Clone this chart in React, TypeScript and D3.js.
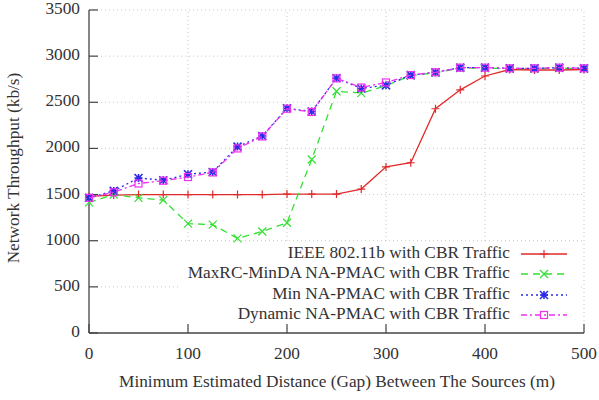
import React from "react";
import * as d3 from "d3";

const xValues = [0, 25, 50, 75, 100, 125, 150, 175, 200, 225, 250, 275, 300, 325, 350, 375, 400, 425, 450, 475, 500];
const ieee = [1480, 1495, 1500, 1500, 1500, 1500, 1500, 1500, 1505, 1505, 1505, 1560, 1800, 1845, 2430, 2635, 2785, 2855, 2850, 2850, 2855];
const maxrc = [1415, 1500, 1465, 1440, 1185, 1175, 1025, 1100, 1195, 1880, 2620, 2600, 2680, 2790, 2820, 2870, 2870, 2865, 2865, 2870, 2865];
const minNa = [1465, 1540, 1680, 1655, 1720, 1745, 2020, 2135, 2435, 2400, 2760, 2650, 2685, 2795, 2825, 2875, 2875, 2868, 2868, 2875, 2868];
const dynNa = [1465, 1525, 1620, 1650, 1690, 1740, 2000, 2130, 2430, 2395, 2760, 2660, 2715, 2795, 2825, 2875, 2875, 2868, 2868, 2875, 2868];
const xTicks = [0, 100, 200, 300, 400, 500];
const yTicks = [0, 500, 1000, 1500, 2000, 2500, 3000, 3500];
const seriesNames = [
  "IEEE 802.11b with CBR Traffic",
  "MaxRC-MinDA NA-PMAC with CBR Traffic",
  "Min NA-PMAC with CBR Traffic",
  "Dynamic NA-PMAC with CBR Traffic",
];

const W = 599, H = 400;
const L = 89, R = 584, T = 10, B = 333;
const FONT = "Liberation Serif";
const FS = 17.3;

const x = d3.scaleLinear().domain([0, 500]).range([L, R]);
const y = d3.scaleLinear().domain([0, 3500]).range([B, T]);

type Style = { color: string; dash: string; marker: string };
const styles: Style[] = [
  { color: "#e02a2a", dash: "", marker: "plus" },
  { color: "#33e033", dash: "7,5", marker: "cross" },
  { color: "#2a2ae8", dash: "2,3", marker: "star" },
  { color: "#f030f0", dash: "6,3,2,3", marker: "square" },
];
const data = [ieee, maxrc, minNa, dynNa];

function Marker({ cx, cy, type, color }: { cx: number; cy: number; type: string; color: string }) {
  const s = 4;
  if (type === "plus")
    return <path d={`M${cx - s},${cy}H${cx + s}M${cx},${cy - s}V${cy + s}`} stroke={color} strokeWidth={1.2} fill="none" />;
  if (type === "cross")
    return <path d={`M${cx - s},${cy - s}L${cx + s},${cy + s}M${cx - s},${cy + s}L${cx + s},${cy - s}`} stroke={color} strokeWidth={1.2} fill="none" />;
  if (type === "star")
    return (
      <path
        d={`M${cx - s},${cy}H${cx + s}M${cx},${cy - s}V${cy + s}M${cx - s},${cy - s}L${cx + s},${cy + s}M${cx - s},${cy + s}L${cx + s},${cy - s}`}
        stroke={color}
        strokeWidth={1.6}
        fill="none"
      />
    );
  return <rect x={cx - 3.5} y={cy - 3.5} width={7} height={7} stroke={color} strokeWidth={1.2} fill="none" />;
}

export default function App() {
  const line = d3
    .line<number>()
    .x((_, i) => x(xValues[i]))
    .y((d) => y(d));
  const legendRows = [254, 274, 295, 315];
  return (
    <svg width={W} height={H} style={{ position: "absolute", left: 0, top: 0, background: "#fff" }} fontFamily={FONT}>
      <rect x={0} y={0} width={W} height={H} fill="#fff" />
      {/* grid */}
      {xTicks.filter((t) => t > 0).map((t) => (
        <line key={"gx" + t} x1={x(t)} x2={x(t)} y1={B} y2={T} stroke="#c8c8c8" strokeDasharray="1,3" />
      ))}
      {yTicks.filter((t) => t > 0).map((t) => (
        <line key={"gy" + t} x1={L} x2={R} y1={y(t)} y2={y(t)} stroke="#c8c8c8" strokeDasharray="1,3" />
      ))}
      {/* legend background */}
      <rect x={180} y={244} width={400} height={82} fill="#fff" />
      {/* axes */}
      <line x1={L} x2={L} y1={T} y2={B} stroke="#444" strokeWidth={1.3} />
      <line x1={L} x2={R} y1={B} y2={B} stroke="#444" strokeWidth={1.3} />
      {xTicks.map((t) => (
        <g key={"xt" + t}>
          <line x1={x(t)} x2={x(t)} y1={B} y2={B - 9} stroke="#444" strokeWidth={1.2} />
          <text x={x(t)} y={355} textAnchor="middle" dominantBaseline="middle" fontSize={FS} fill="#333">
            {t}
          </text>
        </g>
      ))}
      {yTicks.map((t) => (
        <g key={"yt" + t}>
          <line x1={L} x2={L + 9} y1={y(t)} y2={y(t)} stroke="#444" strokeWidth={1.2} />
          <text x={80} y={y(t)} textAnchor="end" dominantBaseline="middle" fontSize={FS} fill="#333">
            {t}
          </text>
        </g>
      ))}
      <text x={337} y={383} textAnchor="middle" dominantBaseline="middle" fontSize={FS} fill="#333">
        Minimum Estimated Distance (Gap) Between The Sources (m)
      </text>
      <text
        transform={`translate(15,${168}) rotate(-90)`}
        textAnchor="middle"
        dominantBaseline="middle"
        fontSize={FS}
        fill="#333"
      >
        Network Throughput (kb/s)
      </text>
      {/* series */}
      {data.map((vals, si) => (
        <g key={"s" + si}>
          <path d={line(vals) || ""} fill="none" stroke={styles[si].color} strokeWidth={1.3} strokeDasharray={styles[si].dash} />
          {vals.map((v, i) => (
            <Marker key={i} cx={x(xValues[i])} cy={y(v)} type={styles[si].marker} color={styles[si].color} />
          ))}
        </g>
      ))}
      {/* legend */}
      {seriesNames.map((name, si) => (
        <g key={"lg" + si}>
          <text x={510} y={legendRows[si]} textAnchor="end" dominantBaseline="middle" fontSize={FS} fill="#333">
            {name}
          </text>
          <line x1={521} x2={567} y1={legendRows[si]} y2={legendRows[si]} stroke={styles[si].color} strokeWidth={1.3} strokeDasharray={styles[si].dash} />
          <Marker cx={544} cy={legendRows[si]} type={styles[si].marker} color={styles[si].color} />
        </g>
      ))}
    </svg>
  );
}
